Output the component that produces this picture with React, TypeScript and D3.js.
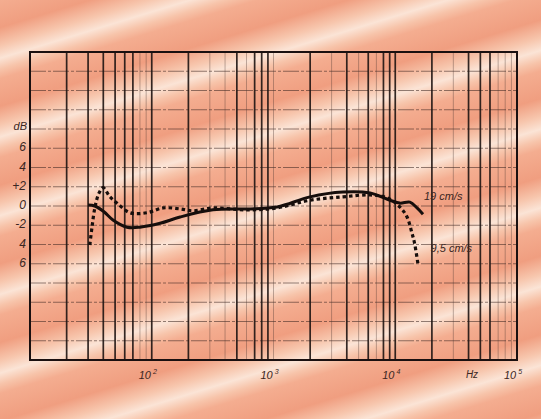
import { useEffect, useRef } from 'react'
import * as d3 from 'd3'

// 19 cm/s tape speed (solid)
const speed19Freq = [30, 34, 40.5, 48, 62.6, 80, 117, 171, 318, 605, 1070, 1995, 3720, 6210, 9060, 10900, 13200, 15100, 16900]
const speed19Db = [0.1, 0, -0.6, -1.45, -2.2, -2.2, -1.8, -1.15, -0.4, -0.3, -0.1, 0.95, 1.45, 1.35, 0.6, 0.3, 0.4, -0.2, -0.85]

// 9,5 cm/s tape speed (dashed)
const speed95Freq = [31, 32.3, 34.2, 36.9, 39.8, 45.4, 51.8, 66.3, 91.4, 124, 171, 218, 318, 605, 1070, 1995, 3720, 6210, 8560, 10900, 12500, 13700, 14400, 15400]
const speed95Db = [-4.05, -2.2, -0.1, 1.35, 1.9, 0.95, 0.3, -0.7, -0.7, -0.2, -0.3, -0.5, -0.2, -0.4, -0.2, 0.6, 0.95, 1.15, 0.85, -0.1, -1.15, -2.8, -3.85, -6.1]

const yTickValues = [6, 4, 2, 0, -2, -4, -6]
const yTickLabels = ['6', '4', '+2', '0', '-2', '4', '6']
const xDecades = [100, 1000, 10000, 100000]
const xDecadeExp = ['2', '3', '4', '5']
const boldFreqs = [20, 30, 40, 50, 60, 70, 100, 200, 500, 700, 800, 900, 2000, 4000, 6000, 8000, 9000, 10000, 20000, 40000, 50000, 60000]

const W = 541
const H = 419

export default function App() {
  const ref = useRef<SVGSVGElement>(null)

  useEffect(() => {
    if (!ref.current) return
    const svg = d3.select(ref.current)
    svg.selectAll('*').remove()

    const margin = { top: 52, right: 24, bottom: 59, left: 30 }
    const innerW = W - margin.left - margin.right
    const innerH = H - margin.top - margin.bottom

    // striped print background
    const defs = svg.append('defs')
    const grad = defs.append('linearGradient')
      .attr('id', 'paper')
      .attr('gradientUnits', 'userSpaceOnUse')
      .attr('x1', 0).attr('y1', 0).attr('x2', 22).attr('y2', 72)
      .attr('spreadMethod', 'repeat')
    const stops: [number, string][] = [
      [0, '#f4ad90'], [0.35, '#f09e80'], [0.58, '#f7c6ad'], [0.74, '#fbe4d6'], [0.88, '#f7c4aa'], [1, '#f4ad90'],
    ]
    stops.forEach(([o, c]) => grad.append('stop').attr('offset', o).attr('stop-color', c))
    svg.append('rect').attr('width', W).attr('height', H).attr('fill', 'url(#paper)')

    const g = svg.append('g').attr('transform', `translate(${margin.left},${margin.top})`)

    const x = d3.scaleLog().domain([10, 100000]).range([0, innerW])
    const y = d3.scaleLinear().domain([-16, 16]).range([innerH, 0])

    // horizontal grid
    d3.range(-14, 16, 2).forEach(v => {
      g.append('line')
        .attr('x1', 0).attr('x2', innerW)
        .attr('y1', y(v)).attr('y2', y(v))
        .attr('stroke', '#3a2520').attr('stroke-width', 1)
        .attr('stroke-dasharray', '16 2 3 2')
        .attr('opacity', 0.55)
    })

    // vertical log grid
    const gridFreqs: number[] = []
    ;[10, 100, 1000, 10000].forEach(b => {
      for (let k = 2; k <= 10; k++) gridFreqs.push(b * k)
    })
    gridFreqs.filter(f => f < 100000).forEach(f => {
      const bold = boldFreqs.includes(f)
      g.append('line')
        .attr('x1', x(f)).attr('x2', x(f))
        .attr('y1', 0).attr('y2', innerH)
        .attr('stroke', bold ? '#1e1412' : '#4a3530')
        .attr('stroke-width', bold ? 1.7 : 0.9)
        .attr('opacity', bold ? 0.9 : 0.4)
    })

    // frame
    g.append('rect')
      .attr('width', innerW).attr('height', innerH)
      .attr('fill', 'none').attr('stroke', '#1a1010').attr('stroke-width', 2)

    const line = d3.line<[number, number]>()
      .x(d => x(d[0]))
      .y(d => y(d[1]))
      .curve(d3.curveCatmullRom.alpha(0.5))

    g.append('path')
      .datum(speed19Freq.map((f, i) => [f, speed19Db[i]] as [number, number]))
      .attr('d', line)
      .attr('fill', 'none').attr('stroke', '#160e0c').attr('stroke-width', 3)
      .attr('stroke-linejoin', 'round')

    g.append('path')
      .datum(speed95Freq.map((f, i) => [f, speed95Db[i]] as [number, number]))
      .attr('d', line)
      .attr('fill', 'none').attr('stroke', '#160e0c').attr('stroke-width', 3.2)
      .attr('stroke-dasharray', '3.5 3')

    const font = "'Liberation Sans', Arial, sans-serif"
    const txtColor = '#3a2622'

    // y labels
    yTickValues.forEach((v, i) => {
      svg.append('text')
        .attr('x', 26).attr('y', margin.top + y(v) + 3)
        .attr('text-anchor', 'end')
        .attr('font-family', font).attr('font-style', 'italic')
        .attr('font-size', 12).attr('fill', txtColor)
        .text(yTickLabels[i])
    })
    svg.append('text')
      .attr('x', 27).attr('y', margin.top + y(8) + 1)
      .attr('text-anchor', 'end')
      .attr('font-family', font).attr('font-style', 'italic')
      .attr('font-size', 11).attr('fill', txtColor)
      .text('dB')

    // x labels
    xDecades.forEach((f, i) => {
      const t = svg.append('text')
        .attr('x', margin.left + x(f) - 4).attr('y', margin.top + innerH + 19)
        .attr('text-anchor', 'middle')
        .attr('font-family', font).attr('font-style', 'italic')
        .attr('font-size', 11).attr('fill', txtColor)
      t.append('tspan').text('10')
      t.append('tspan').attr('dy', -5).attr('font-size', 7).text(` ${xDecadeExp[i]}`)
    })
    svg.append('text')
      .attr('x', 472).attr('y', margin.top + innerH + 18)
      .attr('text-anchor', 'middle')
      .attr('font-family', font).attr('font-style', 'italic')
      .attr('font-size', 10).attr('fill', txtColor)
      .text('Hz')

    // curve labels
    svg.append('text')
      .attr('x', margin.left + x(17200)).attr('y', margin.top + y(0.6))
      .attr('font-family', font).attr('font-style', 'italic')
      .attr('font-size', 11).attr('fill', txtColor)
      .text('19 cm/s')
    svg.append('text')
      .attr('x', margin.left + x(19500)).attr('y', margin.top + y(-4.8))
      .attr('font-family', font).attr('font-style', 'italic')
      .attr('font-size', 11).attr('fill', txtColor)
      .text('9,5 cm/s')
  }, [])

  return (
    <svg ref={ref} width={W} height={H} style={{ position: 'absolute', left: 0, top: 0, display: 'block' }} />
  )
}
